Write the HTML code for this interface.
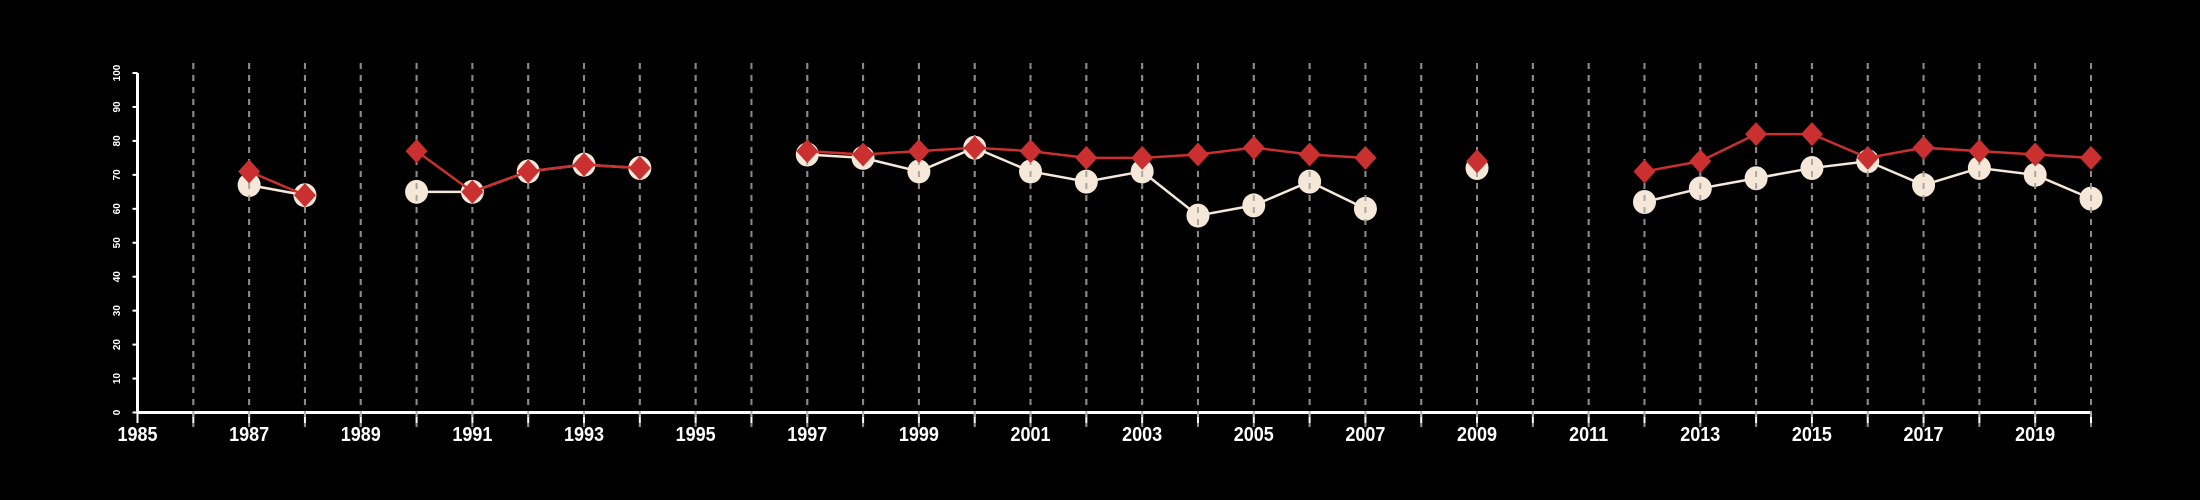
<!DOCTYPE html>
<html><head><meta charset="utf-8"><style>
html,body{margin:0;padding:0;background:#000;}
svg{display:block;font-family:"Liberation Sans",sans-serif;}
</style></head><body>
<svg id="chart" width="2200" height="500" viewBox="0 0 2200 500" xmlns="http://www.w3.org/2000/svg">
<rect width="2200" height="500" fill="#000"/>
<g id="grid"></g>
<g id="axes"></g>
<g id="s1"></g>
<g id="grid2"></g>
<g id="s2"></g>
</svg>
<script>
const years = [1987,1988,1990,1991,1992,1993,1994,1997,1998,1999,2000,2001,2002,2003,2004,2005,2006,2007,2009,2012,2013,2014,2015,2016,2017,2018,2019,2020];
const circleValues = [67,64,65,65,71,73,72,76,75,71,78,71,68,71,58,61,68,60,72,62,66,69,72,74,67,72,70,63];
const diamondValues = [71,64,77,65,71,73,72,77,76,77,78,77,75,75,76,78,76,75,74,71,74,82,82,75,78,77,76,75];
const yTicks = [0,10,20,30,40,50,60,70,80,90,100];
const xLabelYears = [1985,1987,1989,1991,1993,1995,1997,1999,2001,2003,2005,2007,2009,2011,2013,2015,2017,2019];

const NS="http://www.w3.org/2000/svg";
const X0=137.5, X1=2091, Y0=412.5, Y1=73;
const xs = y => X0 + (y-1985)/(2020-1985)*(X1-X0);
const ys = v => Y0 - v/100*(Y0-Y1);
function mk(tag, attrs, parent){const e=document.createElementNS(NS,tag);for(const k in attrs)e.setAttribute(k,attrs[k]);parent.appendChild(e);return e;}
const grid=document.getElementById('grid'), grid2=document.getElementById('grid2'), axes=document.getElementById('axes'), s1=document.getElementById('s1'), s2=document.getElementById('s2');

for(let y=1986;y<=2020;y++){
  for(const g of [grid,grid2]){
    const l=mk('line',{x1:xs(y),x2:xs(y),y1:63,y2:427,stroke:'#8a8a8a','stroke-width':2,'stroke-dasharray':'6,6',opacity:g===grid2?0.7:1},g);
    
    
  }
}
let a=mk('line',{x1:X0,x2:X1,y1:Y0,y2:Y0,stroke:'#fff','stroke-width':3},axes);


a=mk('line',{x1:X0,x2:X0,y1:Y0,y2:Y1,stroke:'#fff','stroke-width':3},axes);


for(let y=1985;y<=2020;y++){
  const t=mk('line',{x1:xs(y),x2:xs(y),y1:Y0,y2:423,stroke:'#fff','stroke-width':2},axes);
  
  
}
for(const y of xLabelYears){
  const t=mk('text',{x:xs(y),y:441,fill:'#fff','font-size':20,'font-weight':'bold','text-anchor':'middle',transform:`translate(${xs(y)},0) scale(0.9,1) translate(${-xs(y)},0)`},axes);
  t.textContent=y;
  
  
}
for(const v of yTicks){
  const tk=mk('line',{x1:X0-5,x2:X0,y1:ys(v),y2:ys(v),stroke:'#fff','stroke-width':2},axes);
  
  
  const t=mk('text',{x:0,y:0,fill:'#fff','font-size':10,'font-weight':'bold','text-anchor':'middle',transform:`translate(120,${ys(v)}) rotate(-90)`},axes);
  t.textContent=v;
  
  
}
function segs(vals){
  const out=[];let cur=[];
  years.forEach((y,i)=>{
    if(i>0 && y!==years[i-1]+1){out.push(cur);cur=[];}
    cur.push([xs(y),ys(vals[i])]);
  });
  out.push(cur);return out;
}
for(const s of segs(circleValues)){ if(s.length>1){
  const p=mk('polyline',{points:s.map(q=>q.join(',')).join(' '),fill:'none',stroke:'#f5e8d8','stroke-width':2.5},s1);
  
  
}}
years.forEach((y,i)=>{
  const c=mk('ellipse',{cx:xs(y),cy:ys(circleValues[i]),rx:11.5,ry:12,fill:'#f5e8d8'},s1);
  
  
});
for(const s of segs(diamondValues)){ if(s.length>1){
  const p=mk('polyline',{points:s.map(q=>q.join(',')).join(' '),fill:'none',stroke:'#c9302f','stroke-width':2.5},s2);
  
  
}}
years.forEach((y,i)=>{
  const cx=xs(y), cy=ys(diamondValues[i]), r=11;
  const d=mk('polygon',{points:`${cx},${cy-r-1} ${cx+r},${cy} ${cx},${cy+r+1} ${cx-r},${cy}`,fill:'#c9302f'},s2);
  
  
});
</script>
</body></html>
